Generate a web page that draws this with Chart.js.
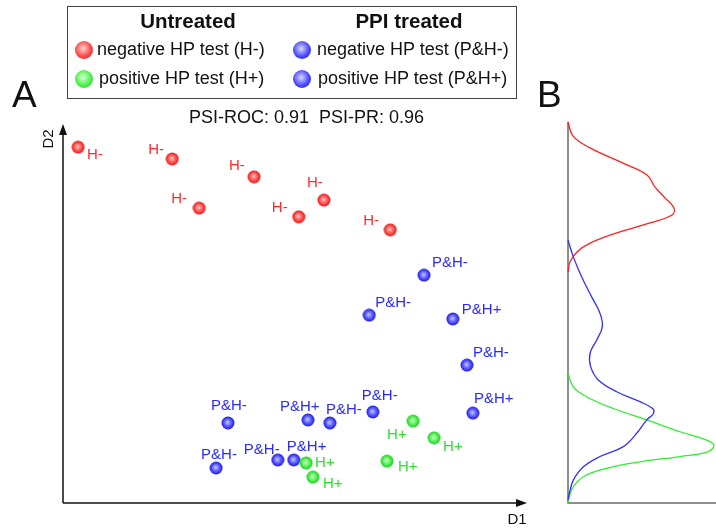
<!DOCTYPE html>
<html>
<head>
<meta charset="utf-8">
<script src="https://cdn.jsdelivr.net/npm/chart.js@4.4.0/dist/chart.umd.min.js"></script>
<style>
  body { margin: 0; width: 716px; height: 528px; position: relative; background: #fff; overflow: hidden;
         font-family: "Liberation Sans", Arial, sans-serif; color: #111; }
  #scatter { position: absolute; left: 0; top: 0; }
  #density { position: absolute; left: 540px; top: 0; }
  .box { position: absolute; left: 67px; top: 6px; width: 448px; height: 91px; border: 1.5px solid #444; }
  .t { position: absolute; white-space: nowrap; line-height: 20px; }
  .head { font-weight: bold; font-size: 20.5px; transform: translateX(-50%); }
  .item { font-size: 18px; }
  .ball { position: absolute; width: 18px; height: 18px; border-radius: 50%; }
  .big { position: absolute; font-size: 37px; line-height: 40px; }
</style>
</head>
<body>
<canvas id="scatter" width="540" height="528"></canvas>
<canvas id="density" width="176" height="528"></canvas>

<div class="box"></div>
<div class="t head" style="left:188px;top:11px">Untreated</div>
<div class="t head" style="left:409px;top:11px">PPI treated</div>
<div class="ball" style="left:75px;top:41px;background:radial-gradient(circle at 45% 42%, #ffd4d4 0%, #ff4848 55%, #e41010 100%)"></div>
<div class="t item" style="left:97px;top:39px">negative HP test (H-)</div>
<div class="ball" style="left:75px;top:70px;background:radial-gradient(circle at 45% 42%, #d8ffd8 0%, #4cf04c 55%, #18c818 100%)"></div>
<div class="t item" style="left:99px;top:68px">positive HP test (H+)</div>
<div class="ball" style="left:293px;top:41px;background:radial-gradient(circle at 45% 42%, #d8d8ff 0%, #4a4aff 55%, #1414d8 100%)"></div>
<div class="t item" style="left:317px;top:39px">negative HP test (P&amp;H-)</div>
<div class="ball" style="left:293px;top:70px;background:radial-gradient(circle at 45% 42%, #d8d8ff 0%, #4a4aff 55%, #1414d8 100%)"></div>
<div class="t item" style="left:318px;top:68px">positive HP test (P&amp;H+)</div>

<div class="big" style="left:12px;top:75px">A</div>
<div class="big" style="left:537px;top:75px">B</div>
<div class="t" style="left:189px;top:107px;font-size:18px">PSI-ROC: 0.91&nbsp;&nbsp;PSI-PR: 0.96</div>

<script>
// panel A: samples in the D1/D2 plane
const hNegD1 = [3.3, 23.9, 41.8, 29.8, 51.6, 57.1, 71.6];
const hNegD2 = [93.4, 90.3, 85.6, 77.4, 75.1, 79.5, 71.7];
const hPosD1 = [53.2, 54.7, 76.6, 81.2, 70.9];
const hPosD2 = [10.5, 6.8, 21.5, 17.1, 11.0];
const phNegD1 = [79.0, 67.0, 88.4, 36.1, 58.4, 67.8, 33.5, 47.0];
const phNegD2 = [59.8, 49.3, 36.2, 21.0, 21.0, 23.9, 9.2, 11.3];
const phPosD1 = [85.3, 89.7, 53.6, 50.5];
const phPosD2 = [48.3, 23.6, 21.8, 11.3];

// panel B: density along D2
const hNegDensY = [100, 96.3, 93.2, 89.2, 86.1, 82.9, 80.1, 77.4, 75.6, 73.5, 70.9, 68.2, 65.9, 63.3, 60.6];
const hNegDens  = [0, 0.034, 0.149, 0.372, 0.534, 0.588, 0.655, 0.716, 0.703, 0.554, 0.331, 0.149, 0.061, 0.014, 0];
const pNegDensY = [69.0, 64.6, 59.4, 54.1, 49.8, 46.3, 42.8, 39.3, 35.8, 32.3, 29.2, 26.6, 24.8, 23.5, 21.8, 18.3, 14.8, 12.2, 9.5, 6.0, 2.5, 0.8];
const pNegDens  = [0, 0.036, 0.092, 0.160, 0.216, 0.232, 0.194, 0.149, 0.153, 0.205, 0.329, 0.486, 0.572, 0.577, 0.532, 0.464, 0.374, 0.216, 0.104, 0.036, 0.009, 0];
const hPosDensY = [34.0, 30.5, 27.9, 24.8, 21.8, 18.7, 16.5, 15.2, 13.5, 12.2, 10.8, 9.1, 6.9, 4.3, 1.7, 0];
const hPosDens  = [0, 0.036, 0.126, 0.306, 0.532, 0.757, 0.937, 0.986, 0.948, 0.757, 0.486, 0.261, 0.104, 0.036, 0.009, 0];

// label offsets (px) for each point, left/middle of the text
const hNegOff = [[9, 8], [-24, -9], [-25, -11], [-28, -9], [-27, -9], [-17, -17], [-27, -9]];
const hPosOff = [[9, 0], [10, 7], [-26, 14], [9, 9], [11, 6]];
const phNegOff = [[8, -12], [6, -12], [6, -12], [-17, -17], [-4, -13], [-11, -16], [-15, -13], [-34, -10]];
const phPosOff = [[9, -9], [1, -14], [-28, -13], [-7, -13]];

const RED = '#ff2a2a', GREEN = '#2fe02f', BLUE = '#2a2aff';

function pts(xs, ys) { return xs.map((x, i) => ({x: x, y: ys[i]})); }

function sphere(light, mid, dark) {
  const r = 6.5, c = document.createElement('canvas');
  c.width = c.height = 14;
  const g = c.getContext('2d');
  const grad = g.createRadialGradient(6.3, 6.2, 0, 7, 7, r);
  grad.addColorStop(0, light);
  grad.addColorStop(0.6, mid);
  grad.addColorStop(1, dark);
  g.fillStyle = grad;
  g.beginPath(); g.arc(7, 7, r, 0, Math.PI * 2); g.fill();
  return c;
}

const redBall = sphere('#ffc8c8', '#ff5050', '#f01818');
const greenBall = sphere('#d0ffd0', '#55ee55', '#1ed01e');
const blueBall = sphere('#c8c8ff', '#5555ff', '#1c1ce0');

function arrow(g, x1, y1, x2, y2) {
  const a = Math.atan2(y2 - y1, x2 - x1);
  g.beginPath(); g.moveTo(x1, y1); g.lineTo(x2 - 6 * Math.cos(a), y2 - 6 * Math.sin(a)); g.stroke();
  g.beginPath();
  g.moveTo(x2, y2);
  g.lineTo(x2 - 11 * Math.cos(a) + 4 * Math.sin(a), y2 - 11 * Math.sin(a) - 4 * Math.cos(a));
  g.lineTo(x2 - 11 * Math.cos(a) - 4 * Math.sin(a), y2 - 11 * Math.sin(a) + 4 * Math.cos(a));
  g.closePath(); g.fill();
}

const scatterDeco = {
  id: 'scatterDeco',
  beforeDatasetsDraw(chart) {
    const g = chart.ctx, a = chart.chartArea;
    g.save();
    g.strokeStyle = '#111'; g.fillStyle = '#111'; g.lineWidth = 1.5;
    arrow(g, a.left, a.bottom, a.left, a.top + 2);
    arrow(g, a.left, a.bottom, a.right + 7, a.bottom);
    g.font = '15px "Liberation Sans", Arial, sans-serif';
    g.textAlign = 'center'; g.textBaseline = 'middle';
    g.fillText('D1', 517, 520);
    g.translate(49, 139); g.rotate(-Math.PI / 2);
    g.fillText('D2', 0, 0);
    g.restore();
  },
  afterDatasetsDraw(chart) {
    const g = chart.ctx;
    g.save();
    g.font = '15px "Liberation Sans", Arial, sans-serif';
    g.textAlign = 'left'; g.textBaseline = 'middle';
    chart.data.datasets.forEach((ds, di) => {
      chart.getDatasetMeta(di).data.forEach((p, i) => {
        const o = ds.offsets[i];
        g.fillStyle = ds.textColor;
        g.fillText(ds.label, p.x + o[0], p.y + o[1]);
      });
    });
    g.restore();
  }
};

new Chart(document.getElementById('scatter'), {
  type: 'scatter',
  data: {
    datasets: [
      { label: 'H-', data: pts(hNegD1, hNegD2), pointStyle: redBall, offsets: hNegOff, textColor: RED },
      { label: 'H+', data: pts(hPosD1, hPosD2), pointStyle: greenBall, offsets: hPosOff, textColor: GREEN },
      { label: 'P&H-', data: pts(phNegD1, phNegD2), pointStyle: blueBall, offsets: phNegOff, textColor: BLUE },
      { label: 'P&H+', data: pts(phPosD1, phPosD2), pointStyle: blueBall, offsets: phPosOff, textColor: BLUE }
    ]
  },
  options: {
    responsive: false,
    animation: false,
    layout: { padding: { left: 63, right: 20, top: 122, bottom: 25 } },
    scales: {
      x: { type: 'linear', min: 0, max: 100, display: false },
      y: { type: 'linear', min: 0, max: 100, display: false }
    },
    plugins: { legend: { display: false }, tooltip: { enabled: false } }
  },
  plugins: [scatterDeco]
});

const densityAxes = {
  id: 'densityAxes',
  beforeDatasetsDraw(chart) {
    const g = chart.ctx, a = chart.chartArea;
    g.save();
    g.strokeStyle = '#6a6a6a'; g.lineWidth = 1.5;
    g.beginPath();
    g.moveTo(a.left, a.top); g.lineTo(a.left, a.bottom); g.lineTo(a.right, a.bottom);
    g.stroke();
    g.restore();
  }
};

function curve(xs, ys, color) {
  return { data: pts(xs, ys), borderColor: color, borderWidth: 1.3, showLine: true,
           pointRadius: 0, tension: 0.4, fill: false };
}

new Chart(document.getElementById('density'), {
  type: 'scatter',
  data: {
    datasets: [
      curve(hNegDens, hNegDensY, '#ff2020'),
      curve(pNegDens, pNegDensY, '#3030ff'),
      curve(hPosDens, hPosDensY, '#30ee30')
    ]
  },
  options: {
    responsive: false,
    animation: false,
    clip: false,
    layout: { padding: { left: 28, right: 0, top: 122, bottom: 25 } },
    scales: {
      x: { type: 'linear', min: 0, max: 1, display: false },
      y: { type: 'linear', min: 0, max: 100, display: false }
    },
    plugins: { legend: { display: false }, tooltip: { enabled: false } }
  },
  plugins: [densityAxes]
});
</script>
</body>
</html>
